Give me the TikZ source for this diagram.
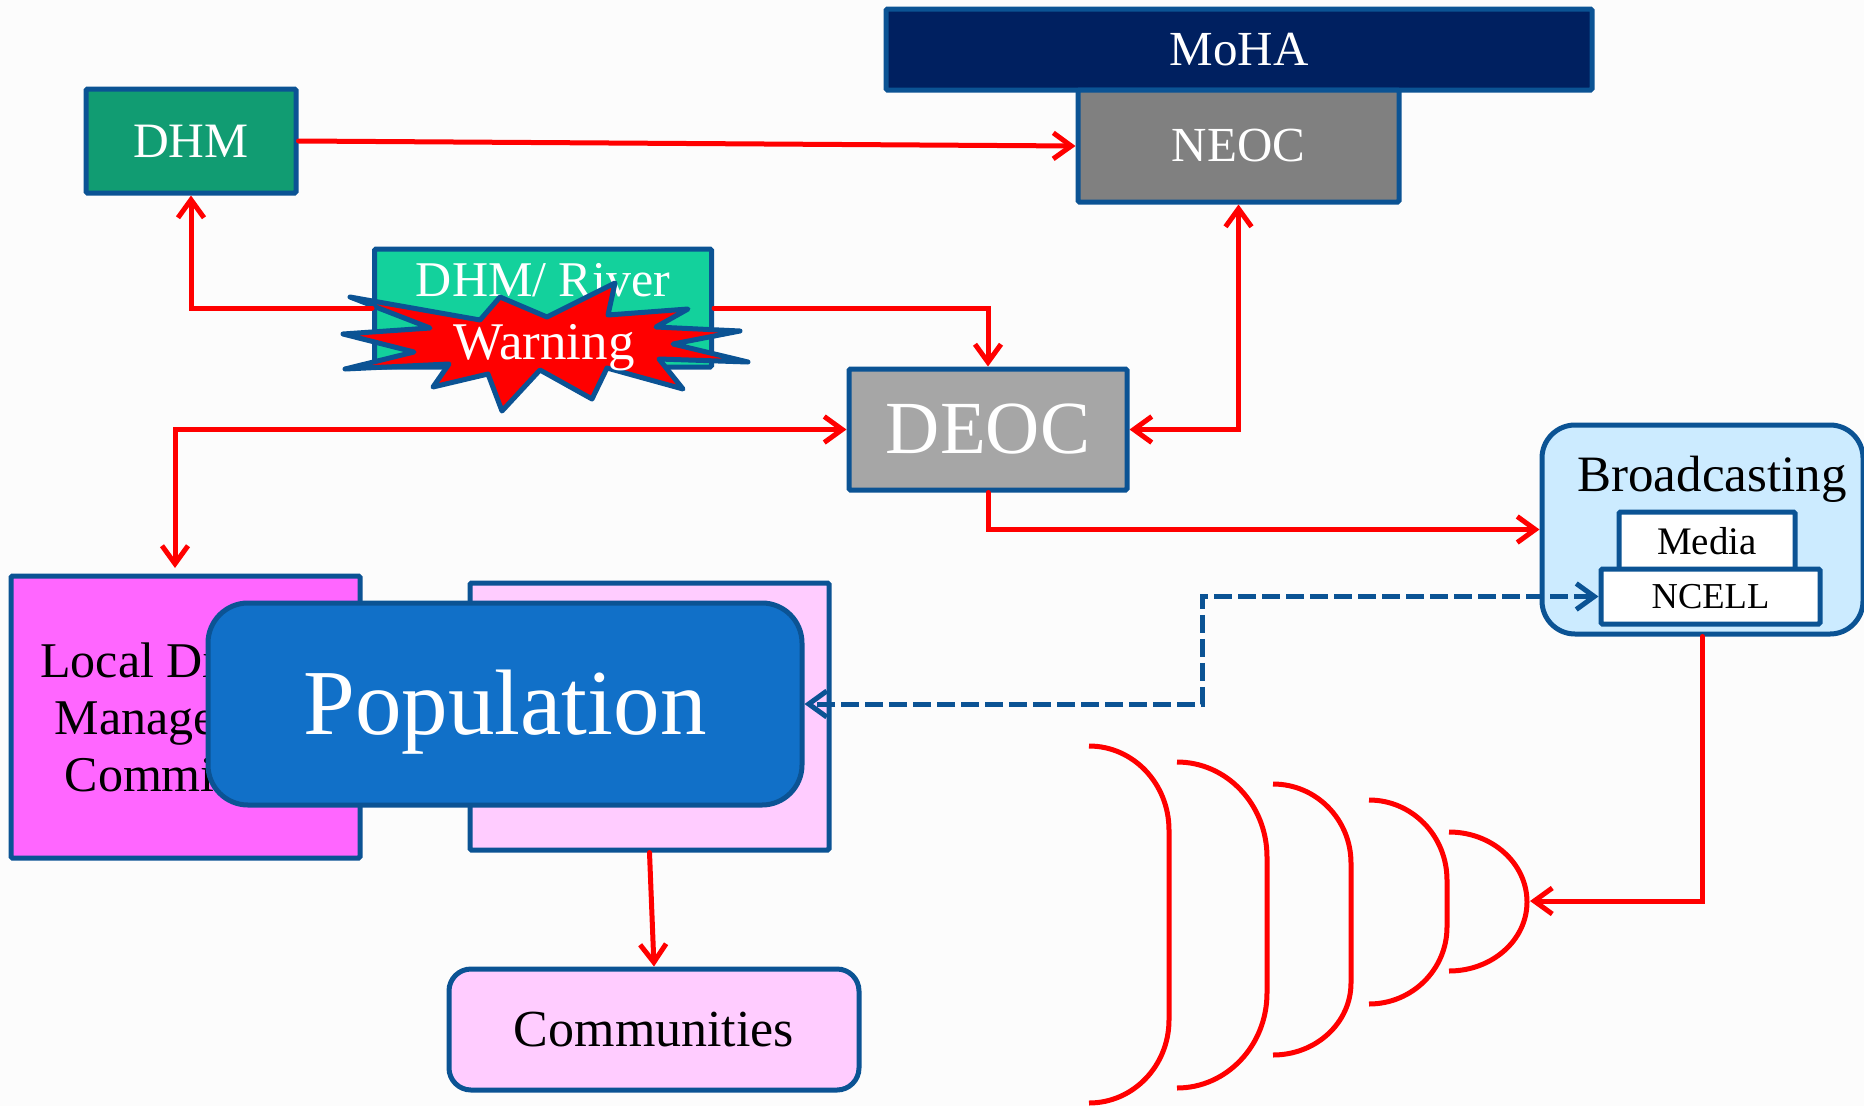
\documentclass[tikz,border=0pt]{standalone}
\usepackage{fontspec}
\setmainfont{Liberation Serif}
\usetikzlibrary{arrows.meta}
\definecolor{edgeblue}{HTML}{0B5394}
\definecolor{dhmgreen}{HTML}{119C72}
\definecolor{rivergreen}{HTML}{13D19C}
\definecolor{mohablue}{HTML}{002060}
\definecolor{popblue}{HTML}{1170C8}
\definecolor{lightpink}{HTML}{FFCCFF}
\definecolor{hotpink}{HTML}{FF66FF}
\definecolor{skyfill}{HTML}{CCEBFF}
\tikzset{
	box/.style={draw=edgeblue, line width=5pt, rounded corners=1.5pt, inner sep=0pt, align=center},
	redline/.style={draw=red, line width=5pt, line cap=round, >={Straight Barb[length=18pt,width=26pt,line width=5pt]}},
	dashline/.style={draw=edgeblue, line width=5pt, dash pattern=on 18pt off 6pt, >={Straight Barb[length=18pt,width=26pt,line width=5pt]}},
	plaintext/.style={inner sep=0pt, align=center}
}
\begin{document}
\begin{tikzpicture}[x=1pt, y=-1pt]
	\useasboundingbox (0,0) rectangle (1864,1106);
	\fill[white!99!black] (0,0) rectangle (1864,1106);
	% boxes
	\node[box, fill=mohablue, text=white, minimum width=706pt, minimum height=81pt, font=\fontsize{49}{57}\selectfont] (moha) at (1239,49.5) {MoHA};
	\node[box, fill=gray, text=white, minimum width=321pt, minimum height=112pt, font=\fontsize{49}{57}\selectfont] (neoc) at (1238.5,146) {NEOC};
	\node[box, fill=dhmgreen, text=white, minimum width=210pt, minimum height=104pt, font=\fontsize{49.5}{57}\selectfont] (dhm) at (191,141) {DHM};
	\node[box, fill=rivergreen, minimum width=337pt, minimum height=118pt] (river) at (543,308) {};
	\node[box, fill=black!35, text=white, minimum width=278pt, minimum height=121pt, font=\fontsize{75}{80}\selectfont] (deoc) at (988,429.5) {DEOC};
	\node[box, fill=hotpink, minimum width=349pt, minimum height=282pt, font=\fontsize{50}{57}\selectfont] (local) at (185.5,717) {Local Disaster\\Management\\Committees};
	\node[box, fill=lightpink, minimum width=359pt, minimum height=267pt] (district) at (649.5,716.5) {};
	\node[box, fill=popblue, text=white, rounded corners=40pt, minimum width=594pt, minimum height=202pt] (population) at (505,704) {};
	\node[plaintext, text=white, font=\fontsize{93}{100}\selectfont] (populationname) at (505,712) {Population};
	\node[box, fill=lightpink, rounded corners=22pt, minimum width=410pt, minimum height=121pt, font=\fontsize{52}{60}\selectfont] (communities) at (654,1029.5) {Communities};
	\node[box, fill=skyfill, rounded corners=33pt, minimum width=321pt, minimum height=209pt] (broadcast) at (1702.5,529.5) {};
	\node[plaintext, font=\fontsize{51}{60}\selectfont] (broadcastname) at (1712,479) {Broadcasting};
	\node[box, fill=white, minimum width=176pt, minimum height=58pt, font=\fontsize{39}{45}\selectfont] (media) at (1707,541) {Media};
	\node[box, fill=white, minimum width=219pt, minimum height=55pt, font=\fontsize{36.5}{42}\selectfont] (ncell) at (1710.5,596.5) {NCELL};
	\node[plaintext, text=white, font=\fontsize{50}{60}\selectfont] (rivername) at (543,280) {DHM/ River};
	% warning star
	\draw[edgeblue, fill=red, line width=5pt, line join=round] (350,297) -- (480,320) -- (500,297) -- (547,317) -- (615,283) -- (608,315) -- (688,309) -- (656,327) -- (740,331) -- (673,344) -- (748,362) -- (659,359) -- (683,389) -- (607,368) -- (592,399) -- (540,370) -- (502,411) -- (488,374) -- (433,387) -- (449,364) -- (345,369) -- (414,352) -- (343,334) -- (430,328) --cycle;
	\node[plaintext, text=white, font=\fontsize{53}{60}\selectfont] (warning) at (544,348) {Warning};
	% free ends
	\coordinate (localtop) at (175,568);
	\coordinate (dashmid) at (1202,650);
	\coordinate (arctip) at (1530,901);
	% connectors
	\draw[redline, ->] (dhm.east) -- (neoc.west);
	\draw[redline, ->] (river.west) -| (dhm.south);
	\draw[redline, ->] (river.east) -| (deoc.north);
	\draw[redline, <->] (deoc.east) -| (neoc.south);
	\draw[redline, <->] (deoc.west) -| (localtop);
	\draw[redline, ->] (deoc.south) |- (broadcast.west);
	\draw[redline, ->] (district.south) -- (communities.north);
	\draw[redline, ->] (broadcast.south) |- (arctip);
	\draw[dashline, <->] (ncell.west) -| (dashmid) |- (population.east);
	% waves
	\foreach \xs/\rx/\ys/\ra/\len/\rb in {1089/80/746/84/190/83, 1177/90/762/95/136/95, 1273/78/784/79/120/72, 1369/78/800/80/47/77, 1449/78/832/70/0/69}
		\draw[red, line width=5pt] (\xs,\ys) arc[start angle=-90, end angle=0, x radius=\rx, y radius=\ra] -- ++(0,\len) arc[start angle=0, end angle=90, x radius=\rx, y radius=\rb];
\end{tikzpicture}
\end{document}
